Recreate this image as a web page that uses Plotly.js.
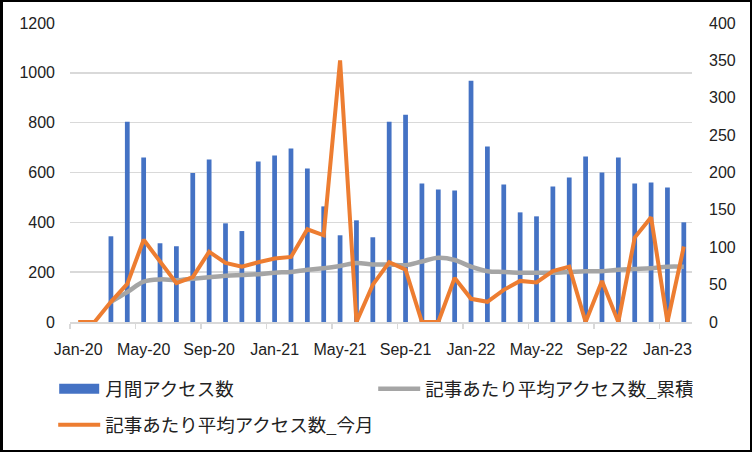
<!DOCTYPE html>
<html>
<head>
<meta charset="utf-8">
<script src="https://cdn.plot.ly/plotly-3.0.1.min.js"></script>
<style>
  body { margin: 0; background: #fff; }
  #wrap { position: relative; width: 752px; height: 452px; }
  #plot { width: 752px; height: 452px; }
  #frame { position: absolute; left: 0; top: 0; width: 752px; height: 452px;
           box-sizing: border-box; border: 2px solid #000; border-left-width: 3px; pointer-events: none; }
</style>
</head>
<body>
<div id="wrap">
  <div id="plot"></div>
  <div id="frame"></div>
</div>
<script>
// months, Jan-20 .. Feb-23
const months = [
  'Jan-20','Feb-20','Mar-20','Apr-20','May-20','Jun-20','Jul-20','Aug-20','Sep-20','Oct-20','Nov-20','Dec-20',
  'Jan-21','Feb-21','Mar-21','Apr-21','May-21','Jun-21','Jul-21','Aug-21','Sep-21','Oct-21','Nov-21','Dec-21',
  'Jan-22','Feb-22','Mar-22','Apr-22','May-22','Jun-22','Jul-22','Aug-22','Sep-22','Oct-22','Nov-22','Dec-22',
  'Jan-23','Feb-23'
];

// 月間アクセス数 (left axis)
const monthlyAccess = [
  0, 0, 344, 804, 660, 316, 304, 598, 652, 396, 365, 644,
  668, 696, 616, 464, 348, 408, 340, 804, 832, 556, 532, 528,
  968, 704, 552, 440, 424, 544, 580, 664, 600, 660, 556, 560,
  540, 400
];

// 記事あたり平均アクセス数_累積 (right axis)
const avgCumulative = [
  null, null, 27, 40, 54, 57, 56, 58, 60, 62, 63, 64,
  66, 67, 70, 72, 75, 79, 77, 77, 76, 81, 86, 83,
  74, 68, 67, 66, 66, 66, 67, 68, 68, 70, 71, 72,
  74, 74
];

// 記事あたり平均アクセス数_今月 (right axis)
const avgThisMonth = [
  0, 0, 27, 51, 110, 80, 52, 60, 94, 79, 74, 80,
  85, 87, 124, 116, 350, 0, 50, 80, 70, 0, 0, 59,
  31, 27, 43, 55, 53, 68, 74, 0, 55, 0, 113, 140,
  0, 101
];

const names = ['月間アクセス数', '記事あたり平均アクセス数_累積', '記事あたり平均アクセス数_今月'];

const tickFont = { family: 'Liberation Sans, Arial, sans-serif', size: 16, color: '#222' };
const legendFont = { family: 'Noto Sans CJK JP, sans-serif', size: 18.5, color: '#222' };

const traces = [
  {
    type: 'bar', x: months, y: monthlyAccess, name: names[0],
    marker: { color: '#4472C4' }, legend: 'legend'
  },
  {
    type: 'scatter', mode: 'lines', x: months, y: avgCumulative, name: names[1], yaxis: 'y2',
    line: { color: '#A5A5A5', width: 4.5, shape: 'spline', smoothing: 1 }, legend: 'legend'
  },
  {
    type: 'scatter', mode: 'lines', x: months, y: avgThisMonth, name: names[2], yaxis: 'y2',
    line: { color: '#ED7D31', width: 4 }, legend: 'legend2'
  }
];

const layout = {
  width: 752, height: 452,
  margin: { l: 70, r: 60, t: 23, b: 130, autoexpand: false },
  paper_bgcolor: '#fff', plot_bgcolor: '#fff',
  bargap: 0.71,
  showlegend: true,
  xaxis: {
    type: 'category', range: [-0.5, 37.5],
    tickmode: 'linear', tick0: 0, dtick: 4, tickson: 'boundaries', tickangle: 0,
    ticks: 'outside', ticklen: 5, tickcolor: '#D9D9D9', tickwidth: 1.5,
    showline: true, linecolor: '#D9D9D9', linewidth: 1.5,
    showgrid: false, ticklabelstandoff: 12,
    tickfont: tickFont
  },
  yaxis: {
    range: [0, 1200], dtick: 200, showgrid: true, gridcolor: '#D9D9D9', gridwidth: 1.5,
    zeroline: false, showline: false, ticks: '', ticklabelstandoff: 14,
    tickfont: tickFont
  },
  yaxis2: {
    overlaying: 'y', side: 'right', range: [0, 400], dtick: 50,
    showgrid: false, zeroline: false, showline: false, ticks: '', ticklabelstandoff: 16,
    tickfont: tickFont
  },
  legend: {
    orientation: 'h', x: -0.027, xanchor: 'left', y: -0.225, yanchor: 'middle',
    entrywidth: 263, entrywidthmode: 'pixels', itemwidth: 42,
    font: legendFont, bgcolor: 'rgba(0,0,0,0)'
  },
  legend2: {
    orientation: 'h', x: -0.027, xanchor: 'left', y: -0.345, yanchor: 'middle',
    itemwidth: 42, font: legendFont, bgcolor: 'rgba(0,0,0,0)'
  }
};

function widenBarKey(gd) {
  // Excel draws the bar key as a wide flat rectangle
  gd.querySelectorAll('g.traces').forEach(function (g) {
    const t = g.querySelector('text.legendtext');
    if (t && t.textContent === names[0]) {
      g.querySelectorAll('g.legendpoints path').forEach(function (p) {
        p.setAttribute('d', 'M20,5H-20V-5H20Z');
      });
    }
  });
}

Plotly.newPlot('plot', traces, layout, { displayModeBar: false, staticPlot: true }).then(function (gd) {
  widenBarKey(gd);
  setTimeout(function () { widenBarKey(gd); }, 50);
});
</script>
</body>
</html>
